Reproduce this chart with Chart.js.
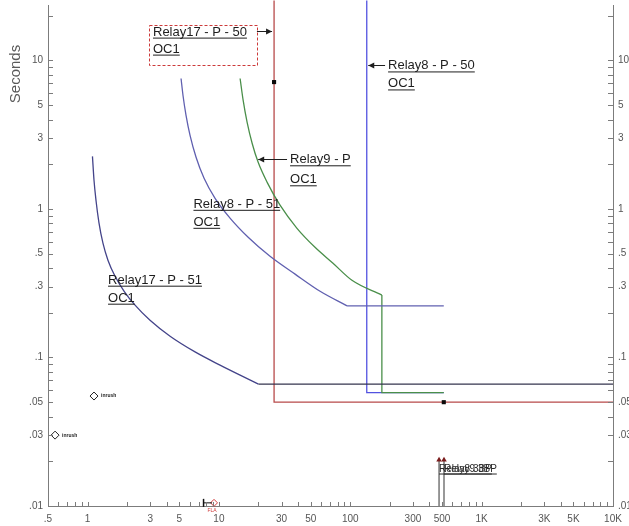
<!DOCTYPE html>
<html>
<head>
<meta charset="utf-8">
<script src="https://cdn.jsdelivr.net/npm/chart.js@4/dist/chart.umd.min.js"></script>
<style>
  html, body { margin: 0; padding: 0; background: #fff; overflow: hidden; }
  #wrap { width: 629px; height: 526px; }
</style>
</head>
<body>
<div id="wrap"><canvas id="tcc" width="629" height="526"></canvas></div>
<script>
// ---------- axis labels ----------
const ampLabelValues = [0.5, 1, 3, 5, 10, 30, 50, 100, 300, 500, 1000, 3000, 5000, 10000];
const ampLabelText   = ['.5', '1', '3', '5', '10', '30', '50', '100', '300', '500', '1K', '3K', '5K', '10K'];
const secLabelValues = [0.01, 0.03, 0.05, 0.1, 0.3, 0.5, 1, 3, 5, 10];
const secLabelText   = ['.01', '.03', '.05', '.1', '.3', '.5', '1', '3', '5', '10'];

// ---------- relay curves (current in A, time in s) ----------
const relay17_51Amps = [1.09, 1.12, 1.16, 1.22, 1.31, 1.43, 1.62, 1.90, 2.30, 2.99, 4.25, 6.58, 10.2, 14.5, 20.0];
const relay17_51Secs = [2.26, 1.56, 1.14, 0.813, 0.588, 0.452, 0.352, 0.279, 0.225, 0.178, 0.139, 0.109, 0.0888, 0.076, 0.0662];
const relay17_51DtAmps = [20.0, 10000];
const relay17_51DtSecs = [0.0662, 0.0662];

const relay8_51Amps = [5.15, 5.33, 5.62, 6.03, 6.70, 7.71, 9.35, 12.2, 16.7, 24.5, 38.0, 58.9, 94.5];
const relay8_51Secs = [7.56, 5.81, 4.27, 3.13, 2.23, 1.61, 1.18, 0.865, 0.645, 0.480, 0.364, 0.279, 0.2225];
const relay8_51DtAmps = [94.5, 515];
const relay8_51DtSecs = [0.2225, 0.2225];

const relay9Amps = [14.5, 15.3, 16.4, 17.9, 19.9, 23.3, 29.2, 39.3, 53.9, 73.9, 103, 174];
const relay9Secs = [7.56, 5.38, 3.83, 2.77, 2.06, 1.51, 1.06, 0.741, 0.552, 0.431, 0.331, 0.263];
const relay9InstAmps = [174, 174, 515];
const relay9InstSecs = [0.263, 0.058, 0.058];

const relay17_50Amps = [26.3, 26.3, 10000];
const relay17_50Secs = [30, 0.05, 0.05];
const relay17_50MarkAmps = [26.3, 515];
const relay17_50MarkSecs = [7.15, 0.05];

const relay8_50Amps = [133.5, 133.5, 515];
const relay8_50Secs = [30, 0.058, 0.058];

// ---------- device points ----------
const inrushAmps = [1.12, 0.566];
const inrushSecs = [0.055, 0.03];
const loadBarAmps = [7.64, 8.87];
const loadBarSecs = [0.0105, 0.0105];
const loadPointAmps = [9.18];
const loadPointSecs = [0.0105];
const breakerAmps = [474, 517];
const breakerTopSecs = [0.0204, 0.0204];
const breakerNames = ['Relay8 3BP', 'Relay9 3BP'];

// ---------- helpers ----------
const pts = (a, s) => a.map((v, i) => ({ x: v, y: s[i] }));
const FONT = '"Liberation Sans", Arial, sans-serif';

function decadeTicks(lo, hi) {
  const out = [];
  for (let k = -3; k <= 4; k++) {
    for (let n = 1; n <= 9; n++) {
      const v = parseFloat((n * Math.pow(10, k)).toPrecision(6));
      if (v >= lo * 0.9999 && v <= hi * 1.0001) out.push(v);
    }
  }
  return out;
}
const SEC_MIN = 0.01, SEC_MAX = 23.44;
const ampTicks = decadeTicks(0.5, 10000);
const secTicks = decadeTicks(SEC_MIN, SEC_MAX);

function labelFor(v, values, texts) {
  for (let i = 0; i < values.length; i++) {
    if (Math.abs(Math.log10(v) - Math.log10(values[i])) < 1e-6) return texts[i];
  }
  return '';
}

// ---------- annotation layout ----------
const notes = [
  { lines: ['Relay17 - P - 50', 'OC1'], amps: 3.15, secs: 14.7, lead: 17, box: true,
    arrow: { side: 'right', toAmps: 26.3 } },
  { lines: ['Relay8 - P - 50', 'OC1'], amps: 194, secs: 8.7, lead: 18,
    arrow: { side: 'left', toAmps: 133.5 } },
  { lines: ['Relay9 - P', 'OC1'], amps: 34.8, secs: 2.03, lead: 20,
    arrow: { side: 'left', toAmps: 19.4 } },
  { lines: ['Relay8 - P - 51', 'OC1'], amps: 6.40, secs: 1.018, lead: 18 },
  { lines: ['Relay17 - P - 51', 'OC1'], amps: 1.432, secs: 0.314, lead: 18 }
];

function underlined(ctx, text, x, y) {
  ctx.fillText(text, x, y);
  const w = ctx.measureText(text).width;
  ctx.fillRect(x, y + 2, w, 1);
  return w;
}

function arrowHead(ctx, x, y, dir) {
  ctx.beginPath();
  ctx.moveTo(x, y);
  ctx.lineTo(x - dir * 6, y - 3);
  ctx.lineTo(x - dir * 6, y + 3);
  ctx.closePath();
  ctx.fill();
}

const inwardTicks = {
  id: 'inwardTicks',
  afterDraw(chart) {
    const { ctx, chartArea: a, scales } = chart;
    ctx.save();
    ctx.strokeStyle = '#7c7c7c';
    ctx.lineWidth = 1;
    ctx.beginPath();
    for (const v of ampTicks) {
      const x = Math.round(scales.x.getPixelForValue(v)) + 0.5;
      ctx.moveTo(x, a.bottom);
      ctx.lineTo(x, a.bottom - 4);
    }
    for (const v of secTicks) {
      const y = Math.round(scales.y.getPixelForValue(v)) + 0.5;
      ctx.moveTo(a.left, y);
      ctx.lineTo(a.left + 5, y);
      ctx.moveTo(a.right, y);
      ctx.lineTo(a.right - 5, y);
    }
    ctx.stroke();
    ctx.restore();
  }
};

const relayNotes = {
  id: 'relayNotes',
  afterDatasetsDraw(chart) {
    const { ctx, scales: { x, y } } = chart;
    ctx.save();

    // axis title
    ctx.save();
    ctx.translate(16, 74);
    ctx.rotate(-Math.PI / 2);
    ctx.font = '15px ' + FONT;
    ctx.fillStyle = '#5a5a5a';
    ctx.textAlign = 'center';
    ctx.textBaseline = 'middle';
    ctx.fillText('Seconds', 0, 0);
    ctx.restore();

    // curve labels
    ctx.font = '13px ' + FONT;
    ctx.textBaseline = 'alphabetic';
    for (const n of notes) {
      const tx = x.getPixelForValue(n.amps);
      const ty = y.getPixelForValue(n.secs);
      ctx.fillStyle = '#1e1e1e';
      let wMax = 0;
      n.lines.forEach((s, i) => {
        const w = underlined(ctx, s, tx, ty + i * n.lead);
        wMax = Math.max(wMax, w);
      });
      if (n.box) {
        ctx.save();
        ctx.strokeStyle = '#cc3a3a';
        ctx.setLineDash([3, 2]);
        ctx.lineWidth = 1;
        ctx.strokeRect(Math.round(tx - 4) + 0.5, Math.round(ty - 10.5) + 0.5,
          Math.round(wMax + 14), Math.round(n.lead * (n.lines.length - 1) + 23));
        ctx.restore();
      }
      if (n.arrow) {
        const ay = Math.round(ty - 4.5) + 0.5;
        const tip = x.getPixelForValue(n.arrow.toAmps);
        ctx.strokeStyle = '#1e1e1e';
        ctx.lineWidth = 1;
        ctx.beginPath();
        if (n.arrow.side === 'right') {
          ctx.moveTo(tx + wMax + 10, ay);
          ctx.lineTo(tip - 2, ay);
          ctx.stroke();
          arrowHead(ctx, tip - 2, ay, 1);
        } else {
          ctx.moveTo(tx - 3, ay);
          ctx.lineTo(tip + 1.5, ay);
          ctx.stroke();
          arrowHead(ctx, tip + 1.5, ay, -1);
        }
      }
    }

    // tiny tags next to inrush points
    ctx.font = 'bold 5px ' + FONT;
    ctx.fillStyle = '#222';
    ctx.textBaseline = 'middle';
    inrushAmps.forEach((a, i) => {
      ctx.fillText('inrush', x.getPixelForValue(a) + 7, y.getPixelForValue(inrushSecs[i]));
    });

    // load point tag
    ctx.fillStyle = '#d04040';
    ctx.font = '5px ' + FONT;
    ctx.textAlign = 'center';
    ctx.fillText('FLA', x.getPixelForValue(loadPointAmps[0]) - 2, y.getPixelForValue(loadPointSecs[0]) + 8);

    // breaker tags
    ctx.textAlign = 'left';
    ctx.textBaseline = 'alphabetic';
    ctx.font = '10px ' + FONT;
    ctx.fillStyle = '#2a2a2a';
    breakerAmps.forEach((a, i) => {
      const bx = x.getPixelForValue(a);
      const by = y.getPixelForValue(breakerTopSecs[i]) + 11.5;
      underlined(ctx, breakerNames[i], bx, by);
    });

    ctx.restore();
  }
};

const lineDefaults = { showLine: true, pointRadius: 0, borderWidth: 1.3, fill: false, tension: 0 };
const overTop = { left: 0, top: 5, right: 0, bottom: 0 };
const noPad = s => { s.paddingTop = 0; s.paddingBottom = 0; s.paddingLeft = 0; s.paddingRight = 0; };

new Chart(document.getElementById('tcc'), {
  type: 'scatter',
  data: {
    datasets: [
      { label: 'Relay17 - P - 50 marks', data: pts(relay17_50MarkAmps, relay17_50MarkSecs), order: -1,
        pointStyle: 'rect', pointRadius: 2.9, backgroundColor: '#0a0a0a', borderColor: '#0a0a0a', borderWidth: 0, clip: false },
      { label: 'Breaker tops', data: pts(breakerAmps, breakerTopSecs), order: -1,
        pointStyle: 'triangle', pointRadius: 3.2, backgroundColor: '#7a1c1c', borderColor: '#7a1c1c', borderWidth: 0, clip: false },
      { ...lineDefaults, label: 'Relay17 - P - 51', data: pts(relay17_51Amps, relay17_51Secs),
        borderColor: '#44448a', cubicInterpolationMode: 'monotone' },
      { ...lineDefaults, label: 'Relay17 - P - 51 DT', data: pts(relay17_51DtAmps, relay17_51DtSecs),
        borderColor: '#34344e' },
      { ...lineDefaults, label: 'Relay8 - P - 51', data: pts(relay8_51Amps, relay8_51Secs),
        borderColor: '#6060b0', cubicInterpolationMode: 'monotone' },
      { ...lineDefaults, label: 'Relay8 - P - 51 DT', data: pts(relay8_51DtAmps, relay8_51DtSecs),
        borderColor: '#6060b0' },
      { ...lineDefaults, label: 'Relay9 - P', data: pts(relay9Amps, relay9Secs),
        borderColor: '#4a8f4a', cubicInterpolationMode: 'monotone' },
      { ...lineDefaults, label: 'Relay9 - P inst', data: pts(relay9InstAmps, relay9InstSecs),
        borderColor: '#4a8f4a' },
      { ...lineDefaults, label: 'Relay17 - P - 50', data: pts(relay17_50Amps, relay17_50Secs),
        borderColor: '#b84a4a', clip: overTop },
      { ...lineDefaults, label: 'Relay8 - P - 50', data: pts(relay8_50Amps, relay8_50Secs),
        borderColor: '#5252e0', clip: overTop },
      { label: 'Inrush', data: pts(inrushAmps, inrushSecs),
        pointStyle: 'rectRot', pointRadius: 4, backgroundColor: '#fff', borderColor: '#222', borderWidth: 1, clip: false },
      { ...lineDefaults, label: 'Load bar', data: pts(loadBarAmps, loadBarSecs), borderColor: '#111', borderWidth: 1,
        pointRadius: [4, 0], pointStyle: 'line', rotation: 90, pointBorderColor: '#111', pointBorderWidth: 1.5, clip: false },
      { label: 'Load', data: pts(loadPointAmps, loadPointSecs),
        pointStyle: 'rectRot', pointRadius: 3.5, backgroundColor: '#fff', borderColor: '#d03c3c', borderWidth: 1, clip: false },
      ...breakerAmps.map((a, i) => ({
        ...lineDefaults, label: breakerNames[i], data: pts([a, a], [breakerTopSecs[i], SEC_MIN]),
        borderColor: '#555', borderWidth: 1.2, clip: false
      }))
    ]
  },
  options: {
    responsive: false,
    animation: false,
    devicePixelRatio: 1,
    layout: { padding: { top: 5, left: 0, right: 0, bottom: 0 } },
    plugins: { legend: { display: false }, tooltip: { enabled: false } },
    scales: {
      x: {
        type: 'logarithmic', position: 'bottom', min: 0.5, max: 10000,
        afterBuildTicks: s => { s.ticks = ampTicks.map(v => ({ value: v })); },
        afterFit: s => { s.height = 20; noPad(s); },
        grid: { display: false, drawTicks: false },
        border: { display: true, color: '#7c7c7c', width: 1 },
        ticks: {
          autoSkip: false, maxRotation: 0, minRotation: 0, padding: 7, color: '#555',
          font: { family: FONT, size: 10 },
          callback: v => labelFor(v, ampLabelValues, ampLabelText)
        }
      },
      y: {
        type: 'logarithmic', position: 'left', min: SEC_MIN, max: SEC_MAX,
        afterBuildTicks: s => { s.ticks = secTicks.map(v => ({ value: v })); },
        afterFit: s => { s.width = 48; noPad(s); },
        grid: { display: false, drawTicks: false },
        border: { display: true, color: '#7c7c7c', width: 1 },
        ticks: {
          autoSkip: false, padding: 5, color: '#555',
          font: { family: FONT, size: 10 },
          callback: v => labelFor(v, secLabelValues, secLabelText)
        }
      },
      y2: {
        type: 'logarithmic', position: 'right', min: SEC_MIN, max: SEC_MAX,
        afterBuildTicks: s => { s.ticks = secTicks.map(v => ({ value: v })); },
        afterFit: s => { s.width = 16; noPad(s); },
        grid: { display: false, drawTicks: false },
        border: { display: true, color: '#7c7c7c', width: 1 },
        ticks: {
          autoSkip: false, padding: 5, color: '#555',
          font: { family: FONT, size: 10 },
          callback: v => labelFor(v, secLabelValues, secLabelText)
        }
      }
    }
  },
  plugins: [inwardTicks, relayNotes]
});
</script>
</body>
</html>
